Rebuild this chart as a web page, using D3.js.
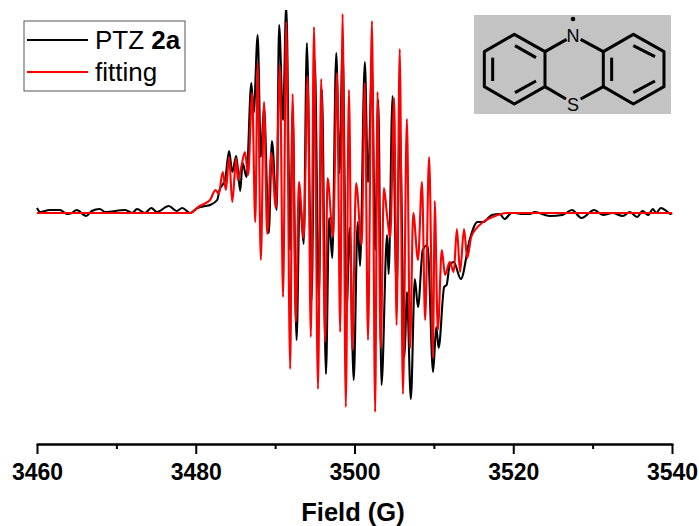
<!DOCTYPE html>
<html>
<head>
<meta charset="utf-8">
<script src="https://cdn.jsdelivr.net/npm/d3@7"></script>
<style>
    html, body { margin: 0; padding: 0; background: #fff; }
    svg { display: block; }
    text { font-family: "Liberation Sans", Arial, sans-serif; fill: #000; }
</style>
</head>
<body>
<div id="chart"></div>
<script>
// values
const majorTicks = [3460, 3480, 3500, 3520, 3540];
const minorTicks = [3470, 3490, 3510, 3530];
const seriesNames = ["PTZ", "fitting"];

const expField = [3460, 3460.4, 3461.6, 3462.9, 3463.8, 3464.4, 3465, 3466.2, 3466.9, 3467.9, 3468.6, 3471.1, 3472, 3472.6, 3473.6, 3474.4, 3475.1, 3476.6, 3477.6, 3478.3, 3479.3, 3480.2, 3481.2, 3481.8, 3482.7, 3483, 3483.7, 3484.2, 3484.6, 3485.1, 3485.6, 3485.9, 3486.4, 3487, 3487.3, 3487.8, 3488.2, 3488.6, 3489.2, 3489.6, 3490.2, 3490.5, 3491, 3491.4, 3491.9, 3492.2, 3492.7, 3493.1, 3493.6, 3494, 3494.6, 3495, 3495.5, 3495.9, 3496.4, 3496.8, 3497.2, 3497.7, 3498.1, 3498.5, 3499, 3499.4, 3499.9, 3500.4, 3500.7, 3501.3, 3501.7, 3502.2, 3502.6, 3503, 3503.4, 3504.1, 3504.3, 3504.8, 3505.3, 3505.7, 3506.3, 3506.6, 3507.1, 3507.6, 3508, 3508.6, 3509.2, 3509.9, 3510.3, 3510.6, 3511.3, 3511.6, 3512, 3512.5, 3513.4, 3514.5, 3515.5, 3516.2, 3517.3, 3518.3, 3518.9, 3519.8, 3520.2, 3521.1, 3522.1, 3522.7, 3524.6, 3526.2, 3527.4, 3528.6, 3530.2, 3531.3, 3532.5, 3533.8, 3534.7, 3535.6, 3536.3, 3537, 3537.6, 3538, 3538.6, 3539.3, 3539.8, 3540];
const expValue = [5, 1, 3, 3, -1, 0, 3, -3, 2, 4, 1, 3, 0, 4, 0, 5, 1, 7, 2, 5, 0, 5, 7, 8, 13, 23, 33, 62, 41, 57, 22, 50, 36, 130, 100, 178, 56, 106, -20, 72, 3, 188, 93, 208, -37, 103, -127, 16, -31, 170, -87, 153, -87, 123, -161, -5, -45, 160, 40, 166, -97, -15, -167, -9, -53, 151, 31, 145, -37, 113, -172, -22, -61, 117, -77, 88, -144, -79, -186, -66, -94, -37, -32, -159, -114, -135, -74, -72, -52, -49, -66, -27, -9, -9, -2, -1, -6, 0, 0, -1, -1, 1, -3, -2, 3, -5, 3, -2, 0, -3, 1, -4, 2, -2, 4, 0, 5, 2, -1, 0];

const fitField = [3460, 3479.3, 3480.5, 3481.8, 3482.5, 3482.9, 3483.4, 3483.8, 3484.2, 3484.6, 3485.1, 3485.3, 3485.7, 3486.2, 3486.6, 3487.1, 3487.5, 3487.8, 3488.2, 3488.6, 3489, 3489.5, 3490.1, 3490.6, 3491, 3491.4, 3491.9, 3492.2, 3492.6, 3493, 3493.6, 3494.1, 3494.5, 3494.9, 3495.4, 3495.8, 3496.3, 3496.6, 3497.3, 3497.8, 3498.2, 3498.5, 3498.9, 3499.3, 3499.7, 3500.2, 3500.9, 3501.3, 3501.7, 3502.2, 3502.6, 3502.9, 3503.3, 3503.7, 3504.1, 3504.5, 3505, 3505.3, 3505.7, 3506.1, 3506.6, 3507, 3507.4, 3508, 3508.5, 3508.9, 3509.4, 3509.9, 3510.1, 3510.5, 3511, 3511.4, 3512, 3512.5, 3512.9, 3513.3, 3513.8, 3514.2, 3514.7, 3515.2, 3516.2, 3517.4, 3519.2, 3522.1, 3540];
const fitValue = [0, 0, 7, 13, 23, 19, 41, 23, 56, 11, 55, 33, 45, 61, 38, 120, -9, 150, -47, 111, -21, 60, 5, 148, -84, 191, -156, 119, -109, 31, -25, 137, -124, 186, -176, 134, -129, 35, -24, 140, -119, 199, -194, 123, -137, 30, -32, 130, -127, 192, -199, 121, -135, 25, -2, -25, 115, -112, 164, -181, 94, -135, 0, -47, 31, -107, 56, -145, 12, -117, -37, -62, -49, -59, -16, -59, -16, -45, -24, -17, -9, -4, 0, 0, 0];

// svg size and plot position
const svgWidth = 699, svgHeight = 526;
const plot = { left: 37, right: 672, top: 10, bottom: 444 };

const svg = d3.select("#chart").append("svg")
    .attr("width", svgWidth)
    .attr("height", svgHeight);

const xScale = d3.scaleLinear().domain([3460, 3540]).range([plot.left, plot.right]);
const yScale = d3.scaleLinear().domain([-231, 203]).range([plot.bottom, plot.top]);

svg.append("clipPath").attr("id", "plotClip")
    .append("rect")
    .attr("x", plot.left - 2).attr("y", plot.top)
    .attr("width", plot.right - plot.left + 4).attr("height", plot.bottom - plot.top);

const line = d3.line()
    .x(d => xScale(d[0]))
    .y(d => yScale(d[1]))
    .curve(d3.curveMonotoneX);

const traces = svg.append("g").attr("clip-path", "url(#plotClip)");
traces.append("path")
    .datum(d3.zip(expField, expValue))
    .attr("d", line)
    .attr("fill", "none").attr("stroke", "#000").attr("stroke-width", 2.1);
traces.append("path")
    .datum(d3.zip(fitField, fitValue))
    .attr("d", line)
    .attr("fill", "none").attr("stroke", "#f00").attr("stroke-width", 2.1);

// bottom axis, minor ticks first
const axisY = plot.bottom;
svg.append("g")
    .attr("transform", `translate(0, ${axisY})`)
    .call(d3.axisBottom(xScale).tickValues(minorTicks).tickSize(5).tickSizeOuter(0).tickFormat(""))
    .call(g => g.selectAll("path, line").attr("stroke", "#000").attr("stroke-width", 2));

const xAxis = svg.append("g")
    .attr("transform", `translate(0, ${axisY})`)
    .call(d3.axisBottom(xScale).tickValues(majorTicks).tickSize(10).tickSizeOuter(0).tickFormat(d3.format("d")));
xAxis.selectAll("path, line").attr("stroke", "#000").attr("stroke-width", 2);
xAxis.select(".domain").attr("stroke-linecap", "square");
xAxis.selectAll("text")
    .attr("y", 0).attr("dy", 35.5)
    .attr("font-size", 23).attr("font-weight", "bold")
    .attr("font-family", "'Liberation Sans', Arial, sans-serif");

svg.append("text")
    .attr("x", 353).attr("y", 521)
    .attr("text-anchor", "middle")
    .attr("font-size", 25.5).attr("font-weight", "bold")
    .text("Field (G)");

// legend
const legend = svg.append("g");
legend.append("rect")
    .attr("x", 24).attr("y", 21).attr("width", 161).attr("height", 70)
    .attr("fill", "#fff").attr("stroke", "#555").attr("stroke-width", 1);
legend.append("line").attr("x1", 27).attr("x2", 88).attr("y1", 40).attr("y2", 40)
    .attr("stroke", "#000").attr("stroke-width", 2);
legend.append("line").attr("x1", 27).attr("x2", 88).attr("y1", 72).attr("y2", 72)
    .attr("stroke", "#f00").attr("stroke-width", 2);
const label = legend.append("text").attr("x", 95).attr("y", 49).attr("font-size", 26);
label.append("tspan").text(seriesNames[0] + " ");
label.append("tspan").attr("font-weight", "bold").text("2a");
legend.append("text").attr("x", 95).attr("y", 81).attr("font-size", 26).text(seriesNames[1]);

// phenothiazine radical inset, drawn at 3x and scaled down
const inset = svg.append("g");
inset.append("rect")
    .attr("x", 474).attr("y", 15).attr("width", 197).attr("height", 99)
    .attr("fill", "#c3c3c3");
const mol = inset.append("g")
    .attr("transform", "translate(460, 5) scale(0.3333)")
    .attr("fill", "none").attr("stroke", "#000").attr("stroke-width", 9);
const ringLeft = [[255, 140], [163, 88], [73, 140], [73, 245], [163, 297], [255, 245]];
const ringRight = [[430, 140], [520, 88], [612, 140], [612, 245], [520, 297], [430, 245]];
const bonds = [
    [[255, 140], [320, 103]], [[362, 103], [430, 140]],
    [[255, 245], [318, 282]], [[362, 282], [430, 245]],
    [[98, 158], [98, 228]], [[165, 122], [228, 158]], [[165, 263], [228, 228]],
    [[455, 158], [455, 228]], [[520, 122], [585, 155]], [[520, 263], [585, 228]]
];
const molLine = d3.line();
mol.selectAll(".ring").data([ringLeft, ringRight]).join("path")
    .attr("class", "ring")
    .attr("stroke-linejoin", "round")
    .attr("d", d => molLine(d) + "Z");
mol.selectAll(".bond").data(bonds).join("path")
    .attr("class", "bond")
    .attr("d", molLine);
inset.append("circle").attr("cx", 573).attr("cy", 19).attr("r", 2.3).attr("fill", "#000");
inset.append("text").attr("x", 573).attr("y", 42).attr("text-anchor", "middle").attr("font-size", 18).text("N");
inset.append("text").attr("x", 573).attr("y", 111).attr("text-anchor", "middle").attr("font-size", 18).text("S");
</script>
</body>
</html>
